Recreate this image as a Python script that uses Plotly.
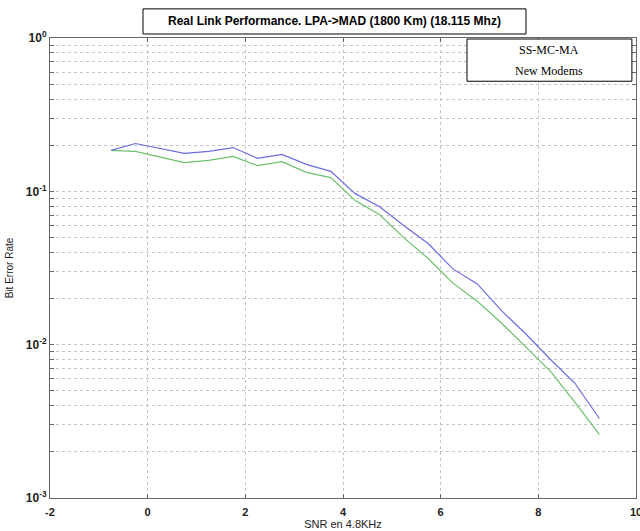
import plotly.graph_objects as go

snr = [-0.75, -0.25, 0.75, 1.25, 1.75, 2.25, 2.75, 3.25, 3.75, 4.25,
       4.75, 5.25, 5.75, 6.25, 6.75, 7.25, 7.75, 8.25, 8.75, 9.25]
ber_blue = [0.185, 0.205, 0.177, 0.182, 0.193, 0.164, 0.174, 0.150, 0.135, 0.0966,
            0.0794, 0.0596, 0.0455, 0.0312, 0.0249, 0.0166, 0.0117, 0.0080, 0.0056, 0.0033]
ber_green = [0.185, 0.182, 0.154, 0.159, 0.169, 0.147, 0.156, 0.133, 0.123, 0.087,
             0.0704, 0.0497, 0.0363, 0.0252, 0.0192, 0.0138, 0.0096, 0.0067, 0.0042, 0.0026]

x_ticks = [-2, 0, 2, 4, 6, 8, 10]
decades = [0.001, 0.01, 0.1, 1]
decade_labels = ["10<sup>-3</sup>", "10<sup>-2</sup>", "10<sup>-1</sup>", "10<sup>0</sup>"]

title_text = "Real Link Performance. LPA->MAD (1800 Km) (18.115 Mhz)"
legend_lines = ["SS-MC-MA", "New Modems"]

y_vals, y_text = [], []
for d, lab in zip(decades, decade_labels):
    for m in range(1, 10):
        v = d * m
        if v > 1.0000001:
            break
        y_vals.append(v)
        y_text.append("<b>" + lab + "</b>" if m == 1 else "")

fig = go.Figure()
fig.add_trace(go.Scatter(x=snr, y=ber_green, mode="lines",
                         line=dict(color="#6cc06c", width=1.2), showlegend=False))
fig.add_trace(go.Scatter(x=snr, y=ber_blue, mode="lines",
                         line=dict(color="#6c6ce0", width=1.2), showlegend=False))

fig.update_layout(
    width=640, height=531,
    margin=dict(l=50, r=4, t=38, b=33),
    paper_bgcolor="white", plot_bgcolor="white",
    font=dict(family="Liberation Sans", size=11, color="#222"),
    xaxis=dict(range=[-2, 10], tickvals=x_ticks,
               ticktext=["<b>" + str(v) + "</b>" for v in x_ticks],
               showgrid=True, gridcolor="#c4c4c4", griddash="dot", gridwidth=1,
               showline=True, linecolor="#666", linewidth=1, mirror="ticks",
               ticks="inside", ticklen=4, tickcolor="#666", zeroline=False,
               ticklabeloverflow="allow", ticklabelstandoff=4, automargin=False,
               tickfont=dict(family="Liberation Sans", size=11, color="#222"),
               title=dict(text="SNR en 4.8KHz", standoff=2,
                          font=dict(family="Liberation Sans", size=11, color="#222"))),
    yaxis=dict(type="log", range=[-3, 0], tickvals=y_vals, ticktext=y_text,
               showgrid=True, gridcolor="#c4c4c4", griddash="dot", gridwidth=1,
               showline=True, linecolor="#666", linewidth=1, mirror="ticks",
               ticks="inside", ticklen=4, tickcolor="#666", zeroline=False,
               automargin=False,
               tickfont=dict(family="Liberation Sans", size=12, color="#222"),
               title=dict(text="Bit Error Rate", standoff=10,
                          font=dict(family="Liberation Sans", size=10, color="#222"))),
)

# Title box
fig.add_shape(type="rect", xref="paper", yref="paper",
              x0=0.1587, x1=0.8123, y0=1.0087, y1=1.0633,
              line=dict(color="black", width=1), fillcolor="white", layer="above")
fig.add_annotation(xref="paper", yref="paper", x=0.4855, y=1.036, showarrow=False,
                   text="<b>" + title_text + "</b>",
                   font=dict(family="Liberation Sans", size=12, color="black"),
                   xanchor="center", yanchor="middle")

# Legend-like text box
fig.add_shape(type="rect", xref="paper", yref="paper",
              x0=0.7116, x1=0.993, y0=0.906, y1=0.9978,
              line=dict(color="black", width=1), fillcolor="white", layer="above")
fig.add_annotation(xref="paper", yref="paper", x=0.852, y=0.974, showarrow=False,
                   text=legend_lines[0],
                   font=dict(family="Liberation Serif", size=12, color="black"),
                   xanchor="center", yanchor="middle")
fig.add_annotation(xref="paper", yref="paper", x=0.852, y=0.928, showarrow=False,
                   text=legend_lines[1],
                   font=dict(family="Liberation Serif", size=12, color="black"),
                   xanchor="center", yanchor="middle")

fig.write_html("out.html")
